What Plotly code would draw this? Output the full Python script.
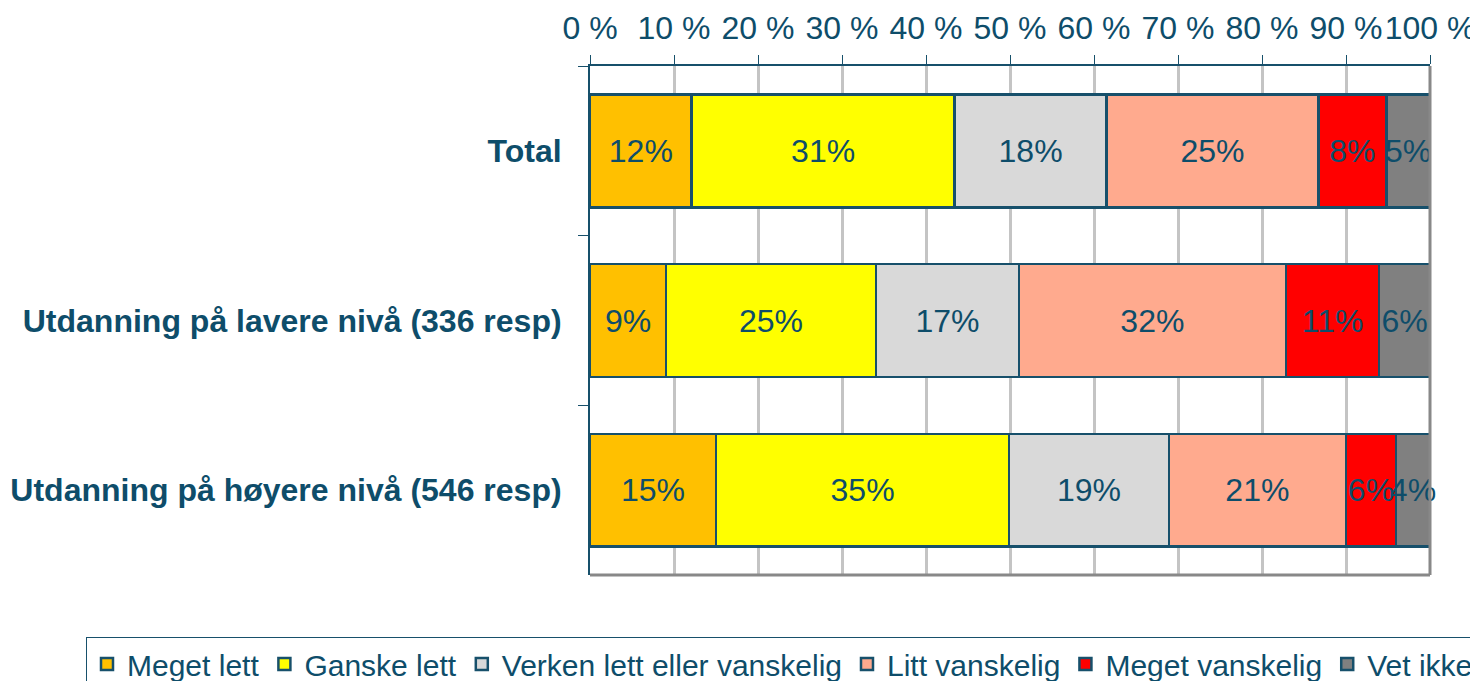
import plotly.graph_objects as go

categories = ["Total",
              "Utdanning på lavere nivå (336 resp)",
              "Utdanning på høyere nivå (546 resp)"]
series_names = ["Meget lett", "Ganske lett", "Verken lett eller vanskelig",
                "Litt vanskelig", "Meget vanskelig", "Vet ikke"]
meget_lett = [12.1, 9.05, 15.0]
ganske_lett = [31.3, 25.0, 34.9]
verken = [18.1, 17.0, 19.0]
litt_vanskelig = [25.2, 31.8, 21.1]
meget_vanskelig = [8.1, 11.1, 5.95]
vet_ikke = [5.2, 6.05, 4.05]
series_values = [meget_lett, ganske_lett, verken, litt_vanskelig, meget_vanskelig, vet_ikke]
colors = ["#FFC000", "#FFFF00", "#D9D9D9", "#FFAA8E", "#FF0000", "#808080"]
tick_values = list(range(0, 101, 10))
tick_labels = [f"{v} %" for v in tick_values]

TEXT = "#0E4D6A"
FONT = "Liberation Sans"

fig = go.Figure()
for name, vals, col in zip(series_names, series_values, colors):
    fig.add_trace(go.Bar(
        y=categories, x=vals, name=name, orientation="h",
        marker=dict(color=col, line=dict(color="#17506B", width=2.5)),
        texttemplate="%{x:.0f}%", textposition="inside", textangle=0,
        insidetextanchor="middle", constraintext="none",
        textfont=dict(family=FONT, size=32, color=TEXT),
        cliponaxis=False,
    ))

fig.update_layout(
    width=1478, height=681,
    barmode="stack", bargap=0.335,
    paper_bgcolor="white", plot_bgcolor="white",
    margin=dict(l=582, r=56, t=58, b=114, pad=0, autoexpand=False),
    font=dict(family=FONT, color=TEXT, size=32),
    showlegend=True,
    legend=dict(orientation="h", traceorder="normal",
                x=-0.6, xanchor="left", y=-0.122, yanchor="top",
                font=dict(family=FONT, size=30, color=TEXT),
                bordercolor="#17506B", borderwidth=1,
                bgcolor="white", itemclick=False),
    xaxis=dict(side="top", range=[0, 100], tickvals=tick_values, ticktext=tick_labels,
               showgrid=True, gridcolor="#C4C4C4", gridwidth=2.5,
               ticks="outside", ticklen=9, tickcolor="#17506B", tickwidth=1,
               showline=True, linecolor="#17506B", linewidth=2, zeroline=False,
               ticklabelstandoff=3, automargin=False,
               tickfont=dict(family=FONT, size=32, color=TEXT)),
    yaxis=dict(autorange="reversed", tickson="boundaries", ticks="outside",
               ticklen=10, tickcolor="#17506B", tickwidth=1,
               showline=True, linecolor="#17506B", linewidth=2,
               showgrid=False, ticklabelstandoff=20, automargin=False,
               tickfont=dict(family=FONT, size=32, color=TEXT, weight="bold")),
)

# plot-area border (right and bottom) as in the original chart frame
fig.add_shape(type="line", xref="x domain", yref="y domain",
              x0=1, x1=1, y0=0, y1=1, line=dict(color="#888888", width=3))
fig.add_shape(type="line", xref="x domain", yref="y domain",
              x0=0, x1=1, y0=0, y1=0, line=dict(color="#888888", width=3))

fig.write_html("out.html")
